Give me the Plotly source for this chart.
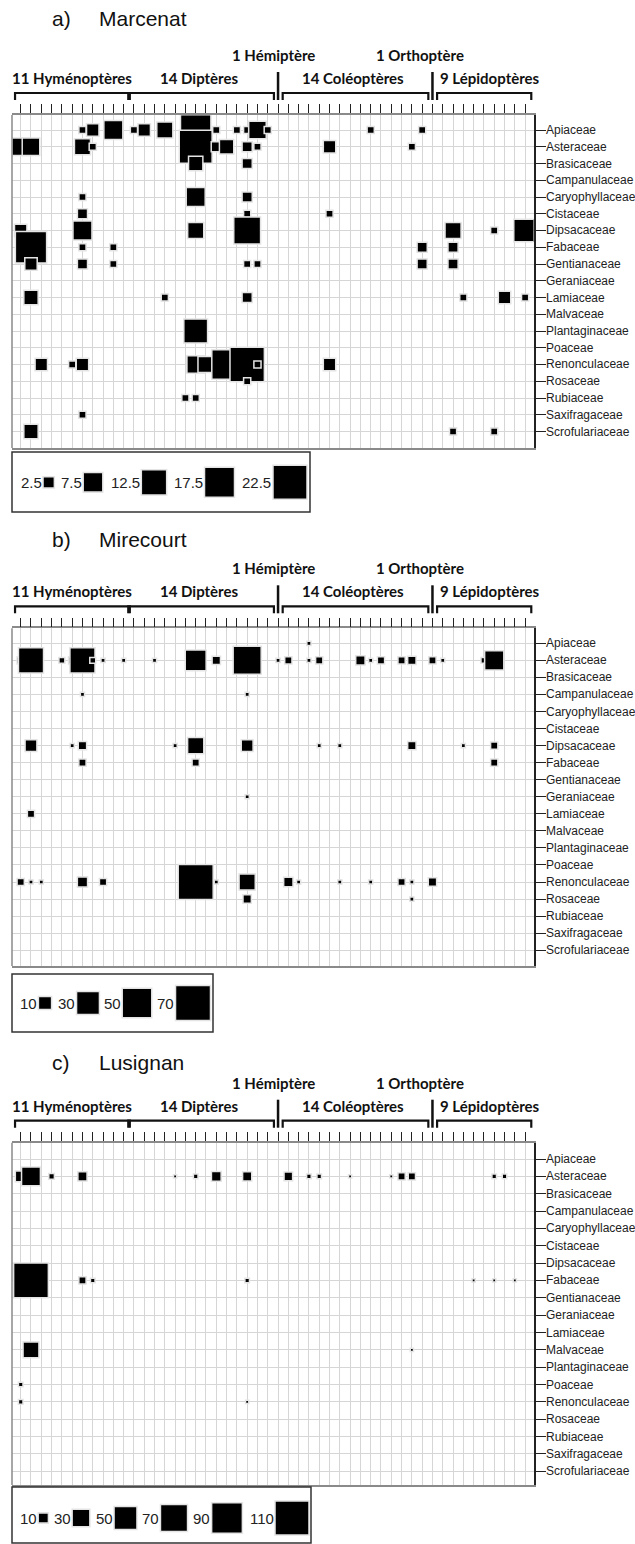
import numpy as np
import plotly.graph_objects as go

W, H = 635, 1544

FAMILIES = ["Apiaceae", "Asteraceae", "Brasicaceae", "Campanulaceae", "Caryophyllaceae",
            "Cistaceae", "Dipsacaceae", "Fabaceae", "Gentianaceae", "Geraniaceae",
            "Lamiaceae", "Malvaceae", "Plantaginaceae", "Poaceae", "Renonculaceae",
            "Rosaceae", "Rubiaceae", "Saxifragaceae", "Scrofulariaceae"]

GROUP_LABELS = ["11 Hyménoptères", "14 Diptères", "1 Hémiptère",
                "14 Coléoptères", "1 Orthoptère", "9 Lépidoptères"]
GROUP_SIZES = [11, 14, 1, 14, 1, 9]
N_INSECTS = sum(GROUP_SIZES)

# ---------------- a) Marcenat ----------------
a_insect = [7, 8, 10, 12, 13, 15, 18, 20, 22, 23, 24, 25, 35, 40,      # Apiaceae
            1, 2, 7, 8, 18, 20, 21, 23, 24, 31, 39,                    # Asteraceae
            18, 23,                                                     # Brasicaceae
            7, 18, 23,                                                  # Caryophyllaceae
            7, 23, 31,                                                  # Cistaceae
            1, 7, 18, 23, 43, 47, 50,                                   # Dipsacaceae
            2, 7, 10, 40, 43,                                           # Fabaceae
            2, 7, 10, 23, 24, 40, 43,                                   # Gentianaceae
            2, 15, 23, 44, 48, 50,                                      # Lamiaceae
            18,                                                         # Plantaginaceae
            3, 6, 7, 18, 19, 21, 23, 24, 31,                            # Renonculaceae
            23,                                                         # Rosaceae
            17, 18,                                                     # Rubiaceae
            7,                                                          # Saxifragaceae
            2, 43, 47]                                                  # Scrofulariaceae
a_family = (["Apiaceae"] * 14 + ["Asteraceae"] * 11 + ["Brasicaceae"] * 2 +
            ["Caryophyllaceae"] * 3 + ["Cistaceae"] * 3 + ["Dipsacaceae"] * 7 +
            ["Fabaceae"] * 5 + ["Gentianaceae"] * 7 + ["Lamiaceae"] * 6 +
            ["Plantaginaceae"] * 1 + ["Renonculaceae"] * 9 + ["Rosaceae"] * 1 +
            ["Rubiaceae"] * 2 + ["Saxifragaceae"] * 1 + ["Scrofulariaceae"] * 3)
a_value = [1, 3, 7, 1, 3, 5, 18, 1, 1, 1, 6, 1, 1, 1,
           6, 6, 5, 1, 21, 2, 4, 2, 1, 3, 1,
           4, 2,
           1, 7, 2,
           2, 1, 1,
           3, 7, 5, 14, 5, 1, 10,
           19, 1, 1, 2, 2,
           3, 2, 1, 1, 1, 2, 2,
           4, 1, 2, 1, 3, 1,
           11,
           3, 1, 3, 6, 5, 17, 23, 1, 3,
           1,
           1, 1,
           1,
           4, 1, 1]
a_legend = [2.5, 7.5, 12.5, 17.5, 22.5]

# ---------------- b) Mirecourt ----------------
b_insect = [29,                                                         # Apiaceae
            1, 2, 5, 6, 7, 8, 9, 11, 14, 18, 20, 23, 26, 27, 29, 30,
            34, 35, 36, 38, 39, 41, 42, 46, 47,                         # Asteraceae
            7, 23,                                                      # Campanulaceae
            2, 6, 7, 16, 18, 23, 30, 32, 39, 44, 47,                    # Dipsacaceae
            7, 18, 47,                                                  # Fabaceae
            23,                                                         # Geraniaceae
            2,                                                          # Lamiaceae
            1, 2, 3, 7, 9, 18, 20, 23, 27, 28, 32, 35, 38, 39, 41,      # Renonculaceae
            23, 39]                                                     # Rosaceae
b_family = (["Apiaceae"] * 1 + ["Asteraceae"] * 25 + ["Campanulaceae"] * 2 +
            ["Dipsacaceae"] * 11 + ["Fabaceae"] * 3 + ["Geraniaceae"] * 1 +
            ["Lamiaceae"] * 1 + ["Renonculaceae"] * 15 + ["Rosaceae"] * 2)
b_value = [1,
           3, 36, 2, 3, 36, 2, 1, 1, 1, 25, 4, 45, 1, 3, 1, 3,
           5, 1, 3, 3, 4, 3, 1, 2, 21,
           1, 1,
           8, 1, 4, 1, 15, 8, 1, 1, 4, 1, 3,
           3, 3, 3,
           1,
           3,
           3, 1, 1, 6, 3, 70, 1, 15, 5, 1, 1, 1, 3, 1, 4,
           4, 1]
b_legend = [10, 30, 50, 70]

# ---------------- c) Lusignan ----------------
c_insect = [1, 2, 4, 7, 16, 18, 20, 23, 27, 29, 30, 33, 37, 38, 39, 47, 48,  # Asteraceae
            2, 7, 8, 23, 45, 47, 49,                                       # Fabaceae
            2, 39,                                                         # Malvaceae
            1,                                                             # Poaceae
            1, 23]                                                         # Renonculaceae
c_family = (["Asteraceae"] * 17 + ["Fabaceae"] * 7 + ["Malvaceae"] * 2 +
            ["Poaceae"] * 1 + ["Renonculaceae"] * 2)
c_value = [11, 34, 3, 8, 1, 2, 9, 8, 7, 2, 2, 1, 1, 5, 5, 2, 2,
           115, 5, 2, 2, 1, 1, 1,
           24, 1,
           2,
           2, 1]
c_legend = [10, 30, 50, 70, 90, 110]

# ---------------- layout geometry (pixels) ----------------
PLOT_X0, PLOT_X1 = 12.0, 533.5
COL1_PX, COL_SP = 20.7, 10.294
LABEL_X = 545.0
HEADER_SHIFT = [0.0, -0.2, -0.4, -0.2, -1.2, 0.6]   # fine horizontal nudges of the group titles

PANELS = [
    dict(letter="a)", site="Marcenat", insect=a_insect, family=a_family, value=a_value,
         legend=a_legend, k=7.17,
         top=115.0, bottom=448.0, row0=130.0, rowsp=16.75, title_y=18,
         leg_box=(12, 452, 310, 512), leg_y=482.3, leg_x=[48.7, 93, 154, 219.5, 290]),
    dict(letter="b)", site="Mirecourt", insect=b_insect, family=b_family, value=b_value,
         legend=b_legend, k=4.18,
         top=628.3, bottom=966.0, row0=643.3, rowsp=17.05, title_y=539,
         leg_box=(12, 974, 213, 1032), leg_y=1003, leg_x=[45, 88, 137, 193]),
    dict(letter="c)", site="Lusignan", insect=c_insect, family=c_family, value=c_value,
         legend=c_legend, k=3.24,
         top=1142.7, bottom=1485.0, row0=1159.0, rowsp=17.35, title_y=1062,
         leg_box=(12, 1487, 311, 1543), leg_y=1518, leg_x=[43.3, 81, 125.5, 174, 227, 292]),
]


def px(x):
    return x / W


def py(y):
    return 1 - y / H


LABEL_FONT = "Liberation Sans, Arial, sans-serif"
GROUP_FONT = "Lato, Carlito, sans-serif"
GRID = "#d6d6d6"

fig = go.Figure()
shapes, annotations = [], []

for i, p in enumerate(PANELS):
    xn = "x" if i == 0 else f"x{i + 1}"
    yn = "y" if i == 0 else f"y{i + 1}"
    xk = "xaxis" if i == 0 else f"xaxis{i + 1}"
    yk = "yaxis" if i == 0 else f"yaxis{i + 1}"
    lxn, lyn = f"x{i + 4}", f"y{i + 4}"
    lxk, lyk = f"xaxis{i + 4}", f"yaxis{i + 4}"

    x_r0 = 1 - (COL1_PX - PLOT_X0) / COL_SP
    x_r1 = 1 + (PLOT_X1 - COL1_PX) / COL_SP
    y_top = -(p["row0"] - p["top"]) / p["rowsp"]
    y_bot = (p["bottom"] - p["row0"]) / p["rowsp"]

    fig.layout[xk] = dict(
        domain=[px(PLOT_X0), px(PLOT_X1)], anchor=yn, side="top",
        range=[x_r0, x_r1], tickvals=list(range(1, N_INSECTS + 1)),
        ticks="outside", ticklen=9, tickwidth=1.2, tickcolor="#222",
        showticklabels=False, showgrid=True, gridcolor=GRID, gridwidth=1.4,
        zeroline=False, showline=True, linecolor="#8a8a8a", linewidth=1.5,
        mirror=True, fixedrange=True)
    fig.layout[yk] = dict(
        domain=[py(p["bottom"]), py(p["top"])], anchor=xn, side="right",
        range=[y_bot, y_top], tickvals=list(range(len(FAMILIES))),
        showticklabels=False,
        ticks="outside", ticklen=10, tickwidth=1.2, tickcolor="#222",
        showgrid=True, gridcolor=GRID, gridwidth=1.4, zeroline=False,
        showline=True, linecolor="#222", linewidth=2, fixedrange=True)

    # family names beside the right-hand ticks
    for j, fam in enumerate(FAMILIES):
        annotations.append(dict(x=px(LABEL_X), y=py(p["row0"] + j * p["rowsp"]),
                                xref="paper", yref="paper", text=fam, showarrow=False,
                                xanchor="left", yanchor="middle", borderpad=0,
                                font=dict(family=LABEL_FONT, size=12, color="#222")))

    # left border in grey
    shapes.append(dict(type="line", xref=f"{xn} domain", yref=f"{yn} domain",
                       x0=0, x1=0, y0=0, y1=1, line=dict(color="#8a8a8a", width=1.5)))

    # data squares, drawn column by column
    rows = [FAMILIES.index(f) for f in p["family"]]
    order = sorted(range(len(p["insect"])), key=lambda j: (p["insect"][j], rows[j]))
    xs = [p["insect"][j] for j in order]
    ys = [rows[j] for j in order]
    vs = [p["value"][j] for j in order]
    sref = 2.0 / p["k"] ** 2
    fig.add_trace(go.Scatter(
        x=xs, y=ys, xaxis=xn, yaxis=yn, mode="markers", showlegend=False,
        marker=dict(symbol="square", size=vs, sizemode="area", sizeref=sref, opacity=1,
                    color="black", line=dict(color="#e4e4e4", width=1.5)),
        hoverinfo="skip"))

    # group brackets / bars / labels above the plot
    top = p["top"]
    br_line = top - 22
    br_end = top - 15
    bar_top, bar_bot = top - 43, top - 15
    start = 1
    for g, (lab, n) in enumerate(zip(GROUP_LABELS, GROUP_SIZES)):
        first, last = start, start + n - 1
        start += n
        if n > 1:
            x0 = max(first - 0.55, x_r0 + 0.05)
            x1 = last + 0.6
            path = (f"M {x0},{py(br_end)} L {x0},{py(br_line)} "
                    f"L {x1},{py(br_line)} L {x1},{py(br_end)}")
            shapes.append(dict(type="path", xref=xn, yref="paper", path=path,
                               line=dict(color="#111", width=2.2)))
            annotations.append(dict(x=(first + last) / 2 + HEADER_SHIFT[g], y=py(top - 37),
                                    xref=xn, yref="paper",
                                    text=lab, showarrow=False, xanchor="center", yanchor="middle",
                                    font=dict(family=GROUP_FONT, size=15, color="#111", weight="bold")))
        else:
            shapes.append(dict(type="line", xref=xn, yref="paper", x0=first, x1=first,
                               y0=py(bar_bot), y1=py(bar_top),
                               line=dict(color="#111", width=2.5)))
            annotations.append(dict(x=first + HEADER_SHIFT[g], y=py(top - 60), xref=xn, yref="paper",
                                    text=lab, showarrow=False, xanchor="center", yanchor="middle",
                                    font=dict(family=GROUP_FONT, size=15, color="#111", weight="bold")))

    # panel title
    annotations.append(dict(x=px(50), y=py(p["title_y"]), xref="paper", yref="paper",
                            text=p["letter"], showarrow=False, xanchor="left", yanchor="middle",
                            font=dict(family=LABEL_FONT, size=21, color="#111")))
    annotations.append(dict(x=px(97), y=py(p["title_y"]), xref="paper", yref="paper",
                            text=p["site"], showarrow=False, xanchor="left", yanchor="middle",
                            font=dict(family=LABEL_FONT, size=21, color="#111")))

    # size legend box (own small axes in pixel units)
    bx0, by0, bx1, by1 = p["leg_box"]
    fig.layout[lxk] = dict(domain=[px(bx0), px(bx1)], range=[bx0, bx1], visible=False,
                           fixedrange=True, anchor=lyn)
    fig.layout[lyk] = dict(domain=[py(by1), py(by0)], range=[by1, by0], visible=False,
                           fixedrange=True, anchor=lxn)
    shapes.append(dict(type="rect", xref="paper", yref="paper",
                       x0=px(bx0), x1=px(bx1), y0=py(by1), y1=py(by0),
                       line=dict(color="#333", width=1.5), fillcolor="rgba(0,0,0,0)"))
    fig.add_trace(go.Scatter(
        x=p["leg_x"], y=[p["leg_y"]] * len(p["legend"]), xaxis=lxn, yaxis=lyn,
        mode="markers", showlegend=False, hoverinfo="skip", cliponaxis=False,
        marker=dict(symbol="square", size=p["legend"], sizemode="area", sizeref=sref, opacity=1,
                    color="black", line=dict(color="#e4e4e4", width=1.5))))
    for lx, lv in zip(p["leg_x"], p["legend"]):
        half = p["k"] * np.sqrt(lv) / 2
        annotations.append(dict(x=px(lx - half - 0.5), y=py(p["leg_y"]), xref="paper", yref="paper",
                                text=f"{lv:g}", showarrow=False, xanchor="right", yanchor="middle",
                                borderpad=0,
                                font=dict(family=LABEL_FONT, size=15, color="#222")))

fig.update_layout(width=W, height=H, margin=dict(l=0, r=0, t=0, b=0),
                  paper_bgcolor="white", plot_bgcolor="rgba(0,0,0,0)",
                  shapes=shapes, annotations=annotations, showlegend=False)

fig.write_html("out.html", config={"displayModeBar": False},
               post_script="document.body.style.margin='0';document.body.style.padding='0';")
